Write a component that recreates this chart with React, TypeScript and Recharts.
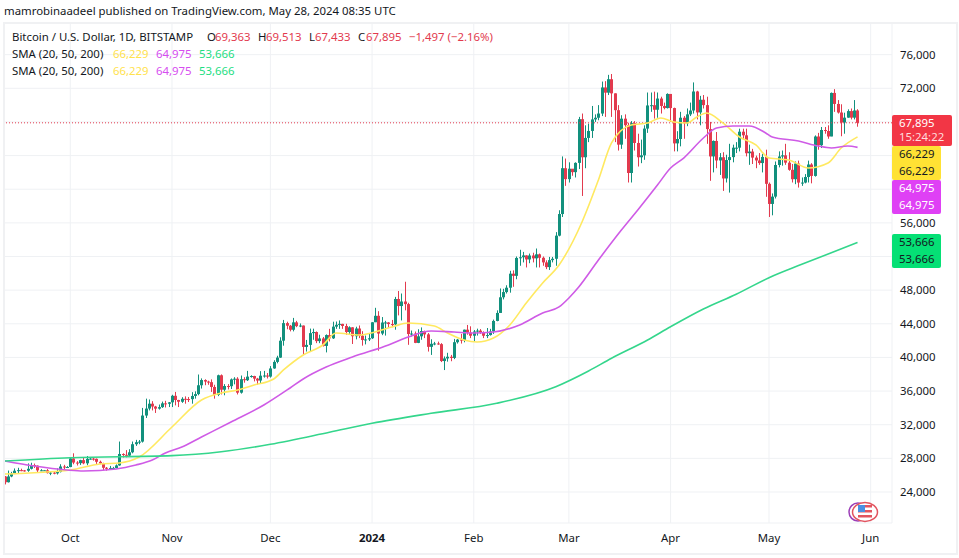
import React from 'react';
import { ComposedChart, Bar, Line, XAxis, YAxis, CartesianGrid, ReferenceLine } from 'recharts';

// daily candles, Sep 11 2023 (day 0) to May 28 2024 (day 260)
const opens = [
  25840, 25160, 25850, 26220, 26530, 26600, 26570, 26530, 26760, 27210, 27130, 26570, 26580, 26580, 26250, 26300, 26220, 26370, 27030, 26910,
  26970, 27990, 27500, 27430, 27790, 27410, 27940, 27970, 27940, 27590, 27390, 26880, 26760, 26860, 26860, 27160, 28520, 28420, 28330, 28720, 29680, 29920, 29990, 33090, 33920, 34500, 34160, 33910, 34090, 34540, 34490,
  34660, 35440, 34940, 34730, 35080, 35050, 35040, 35420, 35640, 36690, 37310, 37130, 37060, 36490, 35540, 37880, 36160, 36600, 36580, 37390, 37470, 35810, 37410, 37290, 37720, 37790, 37480, 37250, 37830, 37850,
  37720, 38690, 39470, 39980, 41990, 44080, 43770, 43290, 44170, 43720, 43790, 41250, 41490, 42890, 43020, 41940, 42260, 41370, 42660, 42270, 43660, 43880, 43990, 43740, 43020, 43580, 42520, 43440, 42580, 42070, 42140,
  42280, 44180, 44950, 42840, 44150, 44160, 43970, 43930, 46950, 46110, 46650, 46340, 42780, 42840, 41730, 42510, 43140, 42740, 41260, 41620, 41660, 41580, 39570, 39880, 40080, 39940, 41810, 42120, 42030, 43300, 42950,
  42580, 43080, 43190, 42990, 42580, 42660, 43090, 44340, 45290, 47150, 47770, 48290, 49960, 49700, 51830, 51910, 52130, 51650, 52120, 51780, 52260, 51850, 51300, 50740, 51570, 51730, 54480, 57050, 62500,
  61200, 62440, 62030, 63130, 68330, 63800, 66100, 66930, 68300, 68500, 69000, 72100, 71480, 73080, 71400, 69400, 65300, 68390, 67610, 61930, 67850, 65500, 63800, 64030, 67210, 69960, 69990, 69450, 70780, 69900, 69650,
  71330, 69650, 65450, 65970, 68500, 67840, 68900, 69360, 71620, 69130, 70640, 70000, 67150, 63900, 65740, 63420, 63800, 61280, 63470, 63820, 64940, 64940, 66840, 66410, 64280, 64480, 63760, 63420, 63110, 63840,
  60640, 58250, 59120, 62880, 63890, 64030, 63160, 62310, 61190, 63050, 60790, 60790, 61450, 62940, 61580, 66270, 65230, 67040, 66920, 66270, 71450, 70140, 69120, 67930, 68510, 69290, 68510, 69363,
];
const highs = [
  25900, 26550, 26400, 26800, 26880, 26770, 26620, 27400, 27480, 27380, 27160, 26720, 26620, 26720, 26420, 26400, 26820, 27300, 27230, 27080,
  28030, 28600, 27670, 27830, 28120, 28280, 28030, 28110, 27990, 27730, 27480, 26970, 27100, 26990, 27280, 30000, 28600, 28980, 29090, 30000, 30200, 30180, 34000, 35100, 35000, 34800, 34240, 34400, 34750, 34840, 34700,
  35560, 35900, 34960, 35270, 35370, 35290, 35870, 35970, 37970, 37510, 37400, 37230, 37390, 36750, 37950, 37980, 36830, 36830, 37500, 37650, 37650, 37850, 37650, 38400, 37880, 37820, 37570, 38370, 38400, 38150,
  38970, 39670, 40200, 42400, 44460, 44250, 43860, 44700, 44350, 44040, 43800, 42080, 43430, 43420, 43090, 42700, 42430, 42740, 43400, 44250, 44270, 44400, 44000, 44000, 43700, 43600, 43650, 43800, 43120, 42600, 42880,
  44200, 45900, 45500, 44800, 44350, 44200, 44460, 47200, 47900, 47600, 49000, 46500, 43200, 43080, 43350, 43570, 43190, 42900, 42160, 41850, 41880, 41700, 40120, 40550, 40300, 42200, 42200, 42800, 43310, 43860, 43700,
  43260, 43420, 43370, 43100, 43500, 43400, 44500, 45600, 48200, 48160, 48580, 50300, 50350, 52000, 52800, 52550, 52150, 52350, 52450, 52950, 52350, 52000, 51550, 51950, 51950, 54900, 57500, 63900, 63650,
  63200, 62400, 63200, 68600, 69000, 67600, 67800, 69900, 68900, 70000, 72800, 72850, 73600, 73700, 71400, 70000, 68800, 68900, 67900, 68100, 68100, 66600, 65900, 67600, 71500, 71500, 71600, 71500, 71000, 70300, 71400,
  71300, 69700, 66900, 69200, 68700, 69600, 70300, 72700, 71700, 71100, 71200, 71000, 68000, 65800, 66800, 64300, 64400, 64100, 65400, 65300, 65600, 67200, 67200, 67200, 65300, 64800, 64000, 64300, 64200, 64700,
  60800, 59500, 63300, 64500, 64600, 65400, 64400, 63000, 63300, 63400, 61400, 61800, 63400, 63100, 66400, 66700, 67400, 67400, 67600, 71500, 71900, 70600, 70100, 69100, 69500, 69600, 70600, 69513,
];
const lows = [
  24900, 25130, 25760, 26130, 26220, 26470, 26420, 26400, 26680, 26850, 26370, 26480, 26530, 26200, 26000, 26110, 26080, 26330, 26700, 26890,
  26950, 27300, 27150, 27220, 27300, 27180, 27840, 27730, 27260, 27300, 26600, 26540, 26700, 26800, 26800, 27120, 28100, 28120, 28180, 28600, 29480, 29680, 29880, 32800, 33700, 33700, 33400, 33800, 34000, 34050, 34100,
  34100, 34300, 34100, 34600, 34500, 34700, 34500, 35100, 35500, 36300, 36700, 36750, 35900, 35100, 35400, 35600, 35500, 36200, 36250, 36800, 35600, 35700, 37000, 37200, 37600, 37150, 36750, 36900, 37600, 37500,
  37600, 38650, 39300, 39950, 41400, 43350, 43100, 43100, 43600, 43600, 40300, 40700, 40700, 42100, 41700, 41700, 41300, 40600, 41900, 42200, 43400, 43400, 43400, 42700, 42800, 41600, 42150, 42300, 41400, 41550, 41950,
  42200, 44200, 40800, 42650, 42600, 43500, 43600, 43300, 45000, 44400, 45600, 41500, 42500, 41700, 41700, 42100, 42300, 40700, 40300, 41450, 41500, 39450, 38500, 39500, 39550, 39800, 41650, 41650, 41800, 42700, 42300,
  41900, 42600, 42800, 42300, 42300, 42600, 42800, 44300, 45300, 46900, 47600, 47700, 48400, 49300, 50900, 51300, 50700, 51200, 51300, 50700, 50700, 50900, 50500, 50400, 51300, 50900, 54400, 56700, 60400,
  60800, 61600, 61400, 62400, 59200, 62500, 65600, 66100, 68000, 68200, 68700, 68600, 71200, 68600, 65600, 64600, 64800, 66000, 60800, 60800, 64600, 62700, 63100, 63500, 66700, 69200, 68400, 68500, 69000, 69500, 69600,
  68000, 64500, 64500, 65100, 66000, 67500, 68700, 69000, 68300, 67600, 69600, 65400, 61000, 62000, 62500, 61700, 59800, 60800, 59600, 63200, 64300, 64500, 65900, 63900, 62900, 63000, 62500, 62900, 62000, 59100,
  56700, 56900, 58900, 62600, 62800, 62900, 62200, 60800, 60600, 60200, 60400, 60700, 60800, 60700, 61500, 64700, 64900, 66600, 66000, 66300, 69200, 69000, 66300, 66600, 68500, 68300, 68300, 67433,
];
const closes = [
  25160, 25850, 26220, 26530, 26600, 26570, 26530, 26760, 27210, 27130, 26570, 26580, 26580, 26250, 26300, 26220, 26370, 27030, 26910, 26970,
  27990, 27500, 27430, 27790, 27410, 27940, 27970, 27940, 27590, 27390, 26880, 26760, 26860, 26860, 27160, 28520, 28420, 28330, 28720, 29680, 29920, 29990, 33090, 33920, 34500, 34160, 33910, 34090, 34540, 34490, 34660,
  35440, 34940, 34730, 35080, 35050, 35040, 35420, 35640, 36690, 37310, 37130, 37060, 36490, 35540, 37880, 36160, 36600, 36580, 37390, 37470, 35810, 37410, 37290, 37720, 37790, 37480, 37250, 37830, 37850, 37720,
  38690, 39470, 39980, 41990, 44080, 43770, 43290, 44170, 43720, 43790, 41250, 41490, 42890, 43020, 41940, 42260, 41370, 42660, 42270, 43660, 43880, 43990, 43740, 43020, 43580, 42520, 43440, 42580, 42070, 42140, 42280,
  44180, 44950, 42840, 44150, 44160, 43970, 43930, 46950, 46110, 46650, 46340, 42780, 42840, 41730, 42510, 43140, 42740, 41260, 41620, 41660, 41580, 39570, 39880, 40080, 39940, 41810, 42120, 42030, 43300, 42950, 42580,
  43080, 43190, 42990, 42580, 42660, 43090, 44340, 45290, 47150, 47770, 48290, 49960, 49700, 51830, 51910, 52130, 51650, 52120, 51780, 52260, 51850, 51300, 50740, 51570, 51730, 54480, 57050, 62500, 61200,
  62440, 62030, 63130, 68330, 63800, 66100, 66930, 68300, 68500, 69000, 72100, 71480, 73080, 71400, 69400, 65300, 68390, 67610, 61930, 67850, 65500, 63800, 64030, 67210, 69960, 69990, 69450, 70780, 69900, 69650, 71330,
  69650, 65450, 65970, 68500, 67840, 68900, 69360, 71620, 69130, 70640, 70000, 67150, 63900, 65740, 63420, 63800, 61280, 63470, 63820, 64940, 64940, 66840, 66410, 64280, 64480, 63760, 63420, 63110, 63840, 60640,
  58250, 59120, 62880, 63890, 64030, 63160, 62310, 61190, 63050, 60790, 60790, 61450, 62940, 61580, 66270, 65230, 67040, 66920, 66270, 71450, 70140, 69120, 67930, 68510, 69290, 68510, 69363, 67895,
];

// moving averages: [day, price]
const sma20: [number, number][] = [
  [0, 26140], [20, 26615], [29, 27330], [35, 27450], [41, 28160], [51, 31730], [60, 34940], [66, 35770], [71, 36130], [76, 36720],
  [82, 37440], [85, 38510], [91, 40290], [97, 41480], [101, 42900], [108, 42670], [118, 43620], [123, 44090], [131, 43740], [135, 42900],
  [140, 42070], [144, 41830], [149, 42310], [154, 43860], [159, 46470], [164, 48850], [169, 50990], [176, 56100], [181, 61100], [185, 65500],
  [191, 67640], [196, 67870], [200, 68470], [204, 67990], [208, 67870], [211, 68590], [214, 69060], [219, 67870], [224, 66210], [229, 65260],
  [233, 63710], [239, 63480], [245, 62520], [251, 63120], [255, 64900], [260, 66229],
];
const sma50: [number, number][] = [
  [0, 27690], [9, 27090], [19, 26620], [24, 26500], [34, 26740], [40, 27210], [45, 27800], [49, 28640], [54, 29350], [60, 30540],
  [69, 32320], [79, 34340], [87, 36370], [91, 37440], [98, 38860], [106, 40050], [117, 41480], [123, 42430], [130, 43140], [137, 43020],
  [143, 42900], [149, 43020], [157, 43860], [164, 45280], [169, 46000], [172, 47070], [175, 48370], [181, 51580], [188, 55150], [193, 57530],
  [199, 60500], [203, 62520], [207, 63710], [213, 66090], [217, 67280], [222, 67520], [227, 67520], [232, 66690], [234, 66210], [242, 65730],
  [248, 65140], [252, 64900], [257, 65140], [260, 64975],
];
const sma200: [number, number][] = [
  [0, 27690], [20, 28080], [51, 28320], [66, 28790], [81, 29670], [99, 31100], [112, 32170], [130, 33360], [150, 34550], [168, 36520],
  [178, 38390], [185, 39900], [196, 42070], [203, 43650], [213, 45760], [223, 47510], [233, 49480], [243, 51070], [260, 53666],
];

const monthTicks = [20, 51, 81, 112, 143, 172, 203, 233, 264];
const monthLabels = ['Oct', 'Nov', 'Dec', '2024', 'Feb', 'Mar', 'Apr', 'May', 'Jun'];
const priceTicks = [24000, 28000, 32000, 36000, 40000, 44000, 48000, 52000, 56000, 60000, 64000, 68000, 72000, 76000];
const coveredPriceTicks = [52000, 60000, 64000, 68000];
const lastClose = 67895;

const FONT = '"Noto Sans", sans-serif';
const FONT_SIZE = 11.4;
const TEXT = '#131722';
const UP = '#12907d';
const DOWN = '#e23a4e';

const lookup = (pairs: [number, number][]) => new Map(pairs);
const map20 = lookup(sma20);
const map50 = lookup(sma50);
const map200 = lookup(sma200);

const rows = closes.map((close, i) => ({
  day: i,
  open: opens[i],
  high: highs[i],
  low: lows[i],
  close,
  sma20: map20.get(i) ?? null,
  sma50: map50.get(i) ?? null,
  sma200: map200.get(i) ?? null,
}));

const Candle = (props: any) => {
  const { x, y, width, height, payload } = props;
  const { open, close, high, low } = payload;
  const perUnit = height / (high - low);
  const yOpen = y + (high - open) * perUnit;
  const yClose = y + (high - close) * perUnit;
  const cx = Math.round(x + width / 2);
  const color = close >= open ? UP : DOWN;
  const top = Math.min(yOpen, yClose);
  return (
    <g>
      <rect x={cx} y={y} width={1} height={height} fill={color} />
      <rect x={cx - 1} y={top} width={3} height={Math.max(1, Math.abs(yClose - yOpen))} fill={color} />
    </g>
  );
};

const MonthTick = ({ x, y, payload }: any) => {
  const label = monthLabels[monthTicks.indexOf(payload.value)];
  return (
    <text x={x} y={y + 11} textAnchor="middle" fontFamily={FONT} fontSize={FONT_SIZE} fontWeight={label === '2024' ? 700 : 400} fill={TEXT}>
      {label}
    </text>
  );
};

const Txt = ({ x, y, color = TEXT, children }: any) => (
  <div style={{ position: 'absolute', left: x, top: y, lineHeight: '14px', fontSize: FONT_SIZE, color, whiteSpace: 'nowrap', fontFamily: FONT }}>
    {children}
  </div>
);

const PriceTag = ({ top, height, width, color, rows: lines }: any) => (
  <div style={{ position: 'absolute', left: 892, top, width, height, background: color, borderRadius: 2 }}>
    {lines.map((l: any, i: number) => (
      <Txt key={i} x={7} y={l.y - top} color={l.color}>{l.text}</Txt>
    ))}
  </div>
);

const SmaLegend = ({ y }: { y: number }) => (
  <>
    <Txt x={12} y={y}>SMA (20, 50, 200)</Txt>
    <Txt x={113} y={y} color="#ffe24d">66,229</Txt>
    <Txt x={156} y={y} color="#d64df0">64,975</Txt>
    <Txt x={199} y={y} color="#1ede82">53,666</Txt>
  </>
);

const FlagBadge = () => (
  <svg style={{ position: 'absolute', left: 846, top: 500 }} width={36} height={24}>
    <circle cx={12} cy={12} r={9} fill="none" stroke="#9c3fb8" strokeWidth={1.5} />
    <ellipse cx={19} cy={12} rx={12.5} ry={9.5} fill="#fff" stroke="#e2545f" strokeWidth={1.5} />
    <circle cx={19} cy={12} r={7.5} fill="#fff" />
    <rect x={12} y={5} width={14} height={2.5} fill="#e2545f" />
    <rect x={12} y={10} width={14} height={2.5} fill="#e2545f" />
    <rect x={12} y={15} width={14} height={2.5} fill="#e2545f" />
    <rect x={12} y={5} width={7} height={7} fill="#4a90e2" />
  </svg>
);

export default function App() {
  return (
    <div style={{ position: 'absolute', left: 0, top: 0, width: 959, height: 558, background: '#fff', overflow: 'hidden' }}>
      <ComposedChart
        width={959}
        height={558}
        data={rows}
        margin={{ top: 23, right: 0, bottom: 0, left: 4 }}
        style={{ position: 'absolute', left: 0, top: 0 }}
      >
        <CartesianGrid stroke="#eff1f4" strokeWidth={1} />
        <XAxis
          dataKey="day"
          type="number"
          domain={[-0.21, 270.5]}
          allowDataOverflow
          ticks={monthTicks}
          interval={0}
          height={35}
          axisLine={false}
          tickLine={false}
          tick={<MonthTick />}
        />
        <YAxis
          orientation="right"
          type="number"
          domain={[20314, 79764]}
          allowDataOverflow
          ticks={priceTicks}
          interval={0}
          width={67}
          axisLine={false}
          tickLine={false}
          tickMargin={2}
          tick={{ fontFamily: FONT, fontSize: FONT_SIZE, fill: TEXT }}
          tickFormatter={(v: number) => (coveredPriceTicks.includes(v) ? '' : v.toLocaleString('en-US'))}
        />
        <ReferenceLine y={lastClose} stroke="#e23a4e" strokeDasharray="1 2" />
        <Line dataKey="sma20" type="monotone" stroke="#ffe960" strokeWidth={1.6} dot={false} connectNulls isAnimationActive={false} />
        <Bar dataKey={(d: any) => [d.low, d.high]} barSize={3} shape={<Candle />} isAnimationActive={false} />
        <Line dataKey="sma50" type="monotone" stroke="#cf5be6" strokeWidth={1.6} dot={false} connectNulls isAnimationActive={false} />
        <Line dataKey="sma200" type="monotone" stroke="#34d68c" strokeWidth={1.6} dot={false} connectNulls isAnimationActive={false} />
      </ComposedChart>

      <div style={{ position: 'absolute', left: 3, top: 22, width: 951, height: 529, border: '2px solid #f0f1f3', pointerEvents: 'none' }} />

      <Txt x={4} y={4}>mamrobinaadeel published on TradingView.com, May 28, 2024 08:35 UTC</Txt>
      <Txt x={12} y={30}>Bitcoin / U.S. Dollar, 1D, BITSTAMP</Txt>
      <Txt x={207} y={30}>O</Txt>
      <Txt x={215} y={30} color={DOWN}>69,363</Txt>
      <Txt x={258} y={30}>H</Txt>
      <Txt x={266} y={30} color={DOWN}>69,513</Txt>
      <Txt x={309} y={30}>L</Txt>
      <Txt x={315} y={30} color={DOWN}>67,433</Txt>
      <Txt x={358} y={30}>C</Txt>
      <Txt x={366} y={30} color={DOWN}>67,895</Txt>
      <Txt x={409} y={30} color={DOWN}>−1,497 (−2.16%)</Txt>
      <SmaLegend y={47} />
      <SmaLegend y={64} />

      <PriceTag top={115} height={31} width={60} color="#f23645" rows={[{ text: '67,895', y: 116, color: '#fff' }, { text: '15:24:22', y: 130, color: '#fdd' }]} />
      <PriceTag top={146} height={34} width={49} color="#ffe234" rows={[{ text: '66,229', y: 147, color: TEXT }, { text: '66,229', y: 164, color: TEXT }]} />
      <PriceTag top={180} height={34} width={49} color="#df40f5" rows={[{ text: '64,975', y: 181, color: '#fff' }, { text: '64,975', y: 198, color: '#fff' }]} />
      <PriceTag top={234} height={34} width={49} color="#05e075" rows={[{ text: '53,666', y: 235, color: TEXT }, { text: '53,666', y: 252, color: TEXT }]} />

      <FlagBadge />
    </div>
  );
}
